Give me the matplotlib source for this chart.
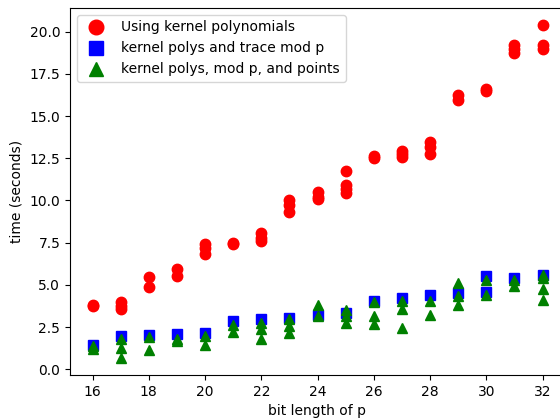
import matplotlib
matplotlib.use("Agg")
import matplotlib.pyplot as plt

# Using kernel polynomials (red circles)
red_x = [16, 16, 17, 17, 17, 18, 18, 19, 19, 20, 20, 20, 21, 21,
         22, 22, 22, 23, 23, 23, 24, 24, 24, 25, 25, 25, 25,
         26, 26, 27, 27, 27, 28, 28, 28, 29, 29, 30, 30,
         31, 31, 31, 32, 32, 32]
red_y = [3.8, 3.75, 4.0, 3.75, 3.55, 5.47, 4.88, 5.96, 5.55, 7.43, 7.2, 6.84, 7.5, 7.45,
         7.77, 8.06, 7.57, 10.03, 9.73, 9.34, 10.48, 10.23, 10.07, 11.76, 10.91, 10.66, 10.42,
         12.49, 12.63, 12.78, 12.58, 12.92, 13.47, 13.17, 12.78, 16.22, 15.93, 16.62, 16.48,
         19.21, 18.72, 18.97, 20.41, 19.21, 18.98]

# kernel polys and trace mod p (blue squares)
blue_x = [16, 17, 18, 19, 20, 21, 22, 23, 24, 25, 26, 27, 28, 29, 30, 30, 31, 32]
blue_y = [1.45, 2.0, 2.05, 2.1, 2.15, 2.85, 2.95, 3.05, 3.19, 3.34, 4.07, 4.23, 4.38, 4.52, 5.5, 4.56, 5.41, 5.6]

# kernel polys, mod p, and points (green triangles)
green_x = [16, 16, 17, 17, 17, 18, 18, 19, 19, 20, 20, 21, 21,
           22, 22, 22, 23, 23, 23, 24, 24, 25, 25, 25,
           26, 26, 26, 27, 27, 27, 28, 28, 29, 29, 29,
           30, 30, 31, 31, 32, 32, 32, 32]
green_y = [1.2, 1.35, 1.77, 1.24, 0.65, 1.9, 1.14, 1.8, 1.67, 2.0, 1.41, 2.6, 2.2,
           2.75, 2.36, 1.77, 2.95, 2.56, 2.12, 3.82, 3.15, 3.54, 3.15, 2.75,
           3.97, 3.15, 2.71, 4.03, 3.58, 2.46, 4.03, 3.24, 5.11, 4.33, 3.78,
           5.31, 4.42, 5.31, 4.91, 5.6, 5.41, 4.76, 4.13]

labels = ["Using kernel polynomials", "kernel polys and trace mod p",
          "kernel polys, mod p, and points"]

fig = plt.figure(figsize=(5.6, 4.19), dpi=100)
ax = fig.add_axes([70/560, (419-375)/419, (565-70)/560, (375-8)/419])
ax.plot(red_x, red_y, 'o', color='red', markersize=7.5, linestyle='none', label=labels[0])
ax.plot(blue_x, blue_y, 's', color='blue', markersize=7.5, linestyle='none', label=labels[1])
ax.plot(green_x, green_y, '^', color='green', markersize=7.5, linestyle='none', label=labels[2])
ax.set_xlim(15.2, 32.8)
ax.set_xticks([16, 18, 20, 22, 24, 26, 28, 30, 32])
ax.set_xlabel("bit length of p")
ax.set_ylabel("time (seconds)")
ax.legend(loc='upper left', markerscale=1.4)
fig.savefig("out.png", dpi=100)
